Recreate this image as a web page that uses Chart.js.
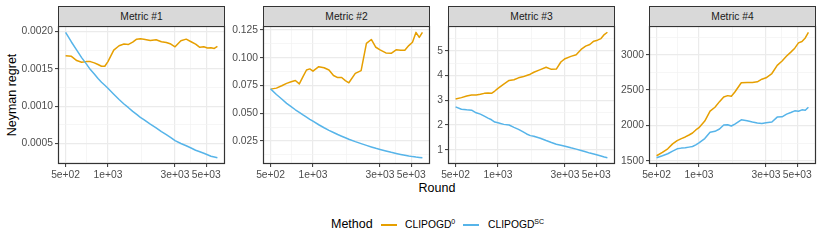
<!DOCTYPE html>
<html><head><meta charset="utf-8">
<script src="https://cdn.jsdelivr.net/npm/chart.js@4.4.1/dist/chart.umd.min.js"></script>
<style>
html,body{margin:0;padding:0;background:#fff;}
body{width:822px;height:247px;overflow:hidden;position:relative;font-family:"Liberation Sans",Arial,sans-serif;}
canvas{position:absolute;}
.strip{position:absolute;top:6px;height:21px;box-sizing:border-box;background:#D9D9D9;border:1.2px solid #333;font-size:10.3px;color:#1A1A1A;text-align:center;line-height:19px;}
.ytitle{position:absolute;left:12px;top:95px;transform:translate(-50%,-50%) rotate(-90deg);font-size:12.5px;color:#000;white-space:nowrap;}
.xtitle{position:absolute;left:437px;top:188px;transform:translate(-50%,-50%);font-size:12.5px;color:#000;white-space:nowrap;}
.leg{position:absolute;top:224px;transform:translateY(-50%);white-space:nowrap;}
.legtitle{font-size:12.5px;color:#000;}
.leglab{font-size:10.3px;color:#000;}
.leglab sup{font-size:7px;vertical-align:0;position:relative;top:-4px;}
.legline{position:absolute;height:1.5px;width:16px;top:224px;}
</style>
</head><body>
<div class="ytitle">Neyman regret</div>
<div class="xtitle">Round</div>
<div class="leg legtitle" style="left:331px">Method</div>
<div class="legline" style="left:381px;background:#E69F00"></div>
<div class="leg leglab" style="left:405px">CLIPOGD<sup>0</sup></div>
<div class="legline" style="left:463px;background:#56B4E9"></div>
<div class="leg leglab" style="left:488px">CLIPOGD<sup>SC</sup></div>
<script>
// ---------- data ----------
const rounds = [500,550,600,650,700,750,800,850,900,950,1000,1100,1200,1300,1400,1500,1600,1700,1800,2000,2200,2400,2600,2800,3000,3300,3600,3900,4200,4500,4800,5100,5400,5700,6000];

const metric1Clip0 = [0.001677,0.001668,0.001611,0.001588,0.001597,0.001597,0.00158,0.001558,0.001535,0.001535,0.001597,0.001752,0.00181,0.001832,0.001827,0.001858,0.001898,0.001903,0.001898,0.001881,0.00189,0.001863,0.001854,0.001832,0.001796,0.001876,0.001898,0.001863,0.001832,0.001788,0.001796,0.001779,0.001783,0.001774,0.001801];
const metric1SC = [0.00199,0.00186,0.00175,0.00165,0.00157,0.00149,0.00143,0.00137,0.00132,0.00128,0.00124,0.00116,0.00109,0.00103,0.00098,0.00093,0.00089,0.00085,0.00082,0.00076,0.00071,0.00066,0.00062,0.00058,0.00054,0.0005,0.00047,0.00044,0.00041,0.00039,0.00037,0.00035,0.00033,0.00032,0.00031];

const metric2Clip0 = [0.0718,0.0727,0.0748,0.0770,0.0784,0.0796,0.0765,0.0830,0.0890,0.0900,0.0880,0.0920,0.0910,0.0890,0.0841,0.0822,0.0823,0.0795,0.0775,0.0860,0.0885,0.1130,0.1165,0.1095,0.1072,0.1044,0.1040,0.1072,0.1068,0.1068,0.1110,0.1140,0.1229,0.1184,0.1230];
const metric2SC = [0.0720,0.0670,0.0629,0.0590,0.0560,0.0532,0.0508,0.0485,0.0465,0.0446,0.0429,0.0397,0.0370,0.0347,0.0327,0.0309,0.0294,0.0280,0.0267,0.0245,0.0227,0.0211,0.0197,0.0185,0.0175,0.0161,0.0149,0.0139,0.0130,0.0122,0.0115,0.0110,0.0106,0.0103,0.0100];

const metric3Clip0 = [3.053,3.107,3.173,3.213,3.213,3.24,3.28,3.293,3.28,3.373,3.48,3.653,3.80,3.827,3.907,3.947,4.0,4.053,4.133,4.24,4.333,4.25,4.26,4.547,4.68,4.773,4.84,5.053,5.187,5.253,5.387,5.427,5.493,5.653,5.747];
const metric3SC = [2.733,2.64,2.613,2.60,2.493,2.44,2.36,2.28,2.213,2.12,2.093,2.027,2.0,1.907,1.827,1.733,1.64,1.573,1.547,1.467,1.373,1.293,1.227,1.187,1.147,1.08,1.027,0.973,0.92,0.867,0.827,0.787,0.747,0.707,0.68];

const metric4Clip0 = [1570,1617,1668,1738,1785,1813,1836,1864,1892,1935,1967,2061,2201,2257,2336,2402,2421,2411,2472,2603,2607,2607,2617,2654,2673,2734,2850,2911,2981,3037,3093,3168,3187,3238,3318];
const metric4SC = [1542,1570,1598,1636,1668,1678,1682,1692,1701,1724,1752,1813,1902,1916,1949,2005,2009,1991,2019,2079,2065,2047,2033,2028,2037,2047,2117,2121,2159,2182,2206,2201,2220,2215,2257];

const panelTitles = ['Metric #1','Metric #2','Metric #3','Metric #4'];
const seriesNames = ['CLIPOGD^0','CLIPOGD^SC'];

const xTickValues = [500,1000,3000,5000];
const xTickLabels = ['5e+02','1e+03','3e+03','5e+03'];
const xMinorValues = [707.1,1732.1,3873.0];

const y1TickValues = [0.0005,0.0010,0.0015,0.0020];
const y1TickLabels = ['0.0005','0.0010','0.0015','0.0020'];
const y1MinorValues = [0.00025,0.00075,0.00125,0.00175];
const y2TickValues = [0.025,0.050,0.075,0.100,0.125];
const y2TickLabels = ['0.025','0.050','0.075','0.100','0.125'];
const y2MinorValues = [0.0125,0.0375,0.0625,0.0875,0.1125];
const y3TickValues = [1,2,3,4,5];
const y3TickLabels = ['1','2','3','4','5'];
const y3MinorValues = [0.5,1.5,2.5,3.5,4.5,5.5];
const y4TickValues = [1500,2000,2500,3000];
const y4TickLabels = ['1500','2000','2500','3000'];
const y4MinorValues = [1750,2250,2750,3250];

// ---------- layout / style ----------
const ORANGE = '#E69F00', BLUE = '#56B4E9';
const PANEL_LEFTS = [58, 263, 448, 649];
const PANEL_W = 167, PANEL_TOP = 26, PANEL_H = 138;
const AXW = 46, PADT = 12, PADR = 4, XH = 30;
const GRID_MAJOR = '#EBEBEB', GRID_MINOR = '#F2F2F2';
const TICK_COL = '#4D4D4D';
const FONT = {family:'"Liberation Sans", Arial, sans-serif', size:10.3};

const panelData = [
  {clip0:metric1Clip0, sc:metric1SC, tv:y1TickValues, tl:y1TickLabels, mv:y1MinorValues},
  {clip0:metric2Clip0, sc:metric2SC, tv:y2TickValues, tl:y2TickLabels, mv:y2MinorValues},
  {clip0:metric3Clip0, sc:metric3SC, tv:y3TickValues, tl:y3TickLabels, mv:y3MinorValues},
  {clip0:metric4Clip0, sc:metric4SC, tv:y4TickValues, tl:y4TickLabels, mv:y4MinorValues}
];

// shared log x limits with 5% expansion (ggplot default)
const lxMin = Math.log10(Math.min(...rounds)), lxMax = Math.log10(Math.max(...rounds));
const lxEx = (lxMax - lxMin) * 0.05;
const XMIN = Math.pow(10, lxMin - lxEx), XMAX = Math.pow(10, lxMax + lxEx);

function buildTicks(values, labels, minors, lo, hi) {
  const t = [];
  minors.forEach(v => { if (v >= lo && v <= hi) t.push({value:v, lbl:'', minor:true}); });
  values.forEach((v,k) => { if (v >= lo && v <= hi) t.push({value:v, lbl:labels[k], minor:false}); });
  t.sort((a,b)=>a.value-b.value);
  return t;
}

const borderPlugin = {
  id:'panelBorder',
  afterDraw(chart) {
    const a = chart.chartArea, c = chart.ctx;
    c.save();
    c.strokeStyle = '#333333';
    c.lineWidth = 1.2;
    c.strokeRect(a.left + 0.5, a.top + 0.5, a.right - a.left - 1, a.bottom - a.top - 1);
    c.restore();
  }
};

const gridOpts = {
  color: ctx => (ctx.tick && ctx.tick.minor) ? GRID_MINOR : GRID_MAJOR,
  lineWidth: ctx => (ctx.tick && ctx.tick.minor) ? 0.7 : 1.2,
  tickLength: 3,
  tickColor: ctx => (ctx.tick && ctx.tick.minor) ? 'rgba(0,0,0,0)' : '#333333',
  tickWidth: 1,
  drawTicks: true
};

panelData.forEach((P, i) => {
  const strip = document.createElement('div');
  strip.className = 'strip';
  strip.style.left = PANEL_LEFTS[i] + 'px';
  strip.style.width = PANEL_W + 'px';
  strip.textContent = panelTitles[i];
  document.body.appendChild(strip);

  const cv = document.createElement('canvas');
  const W = AXW + PANEL_W + PADR, H = PADT + PANEL_H + XH;
  cv.width = W; cv.height = H;
  cv.style.width = W + 'px'; cv.style.height = H + 'px';
  cv.style.left = (PANEL_LEFTS[i] - AXW) + 'px';
  cv.style.top = (PANEL_TOP - PADT) + 'px';
  document.body.insertBefore(cv, strip);

  const all = P.clip0.concat(P.sc);
  const lo = Math.min(...all), hi = Math.max(...all), ex = (hi - lo) * 0.05;
  const yMin = lo - ex, yMax = hi + ex;

  new Chart(cv, {
    type: 'line',
    data: {
      datasets: [
        {label: seriesNames[1], data: rounds.map((r,k)=>({x:r, y:P.sc[k]})), borderColor: BLUE, backgroundColor: BLUE},
        {label: seriesNames[0], data: rounds.map((r,k)=>({x:r, y:P.clip0[k]})), borderColor: ORANGE, backgroundColor: ORANGE}
      ]
    },
    options: {
      responsive: false, animation: false, devicePixelRatio: 1,
      layout: {padding: {left:0, top:PADT, right:PADR, bottom:0}},
      plugins: {legend:{display:false}, tooltip:{enabled:false}},
      elements: {point:{radius:0}, line:{borderWidth:1.5, tension:0, borderCapStyle:'butt', borderJoinStyle:'round'}},
      scales: {
        x: {
          type: 'logarithmic', min: XMIN, max: XMAX,
          afterBuildTicks: s => { s.ticks = buildTicks(xTickValues, xTickLabels, xMinorValues, XMIN, XMAX); },
          afterFit: s => { s.height = XH; },
          ticks: {autoSkip:false, maxRotation:0, minRotation:0, padding:2, color:TICK_COL, font:FONT,
                  callback: (v,k,t) => t[k].lbl},
          grid: gridOpts,
          border: {display:false}
        },
        y: {
          type: 'linear', min: yMin, max: yMax,
          afterBuildTicks: s => { s.ticks = buildTicks(P.tv, P.tl, P.mv, yMin, yMax); },
          afterFit: s => { s.width = AXW; },
          ticks: {autoSkip:false, padding:2, color:TICK_COL, font:FONT,
                  callback: (v,k,t) => t[k].lbl},
          grid: gridOpts,
          border: {display:false}
        }
      }
    },
    plugins: [borderPlugin]
  });
});
</script>
</body></html>
